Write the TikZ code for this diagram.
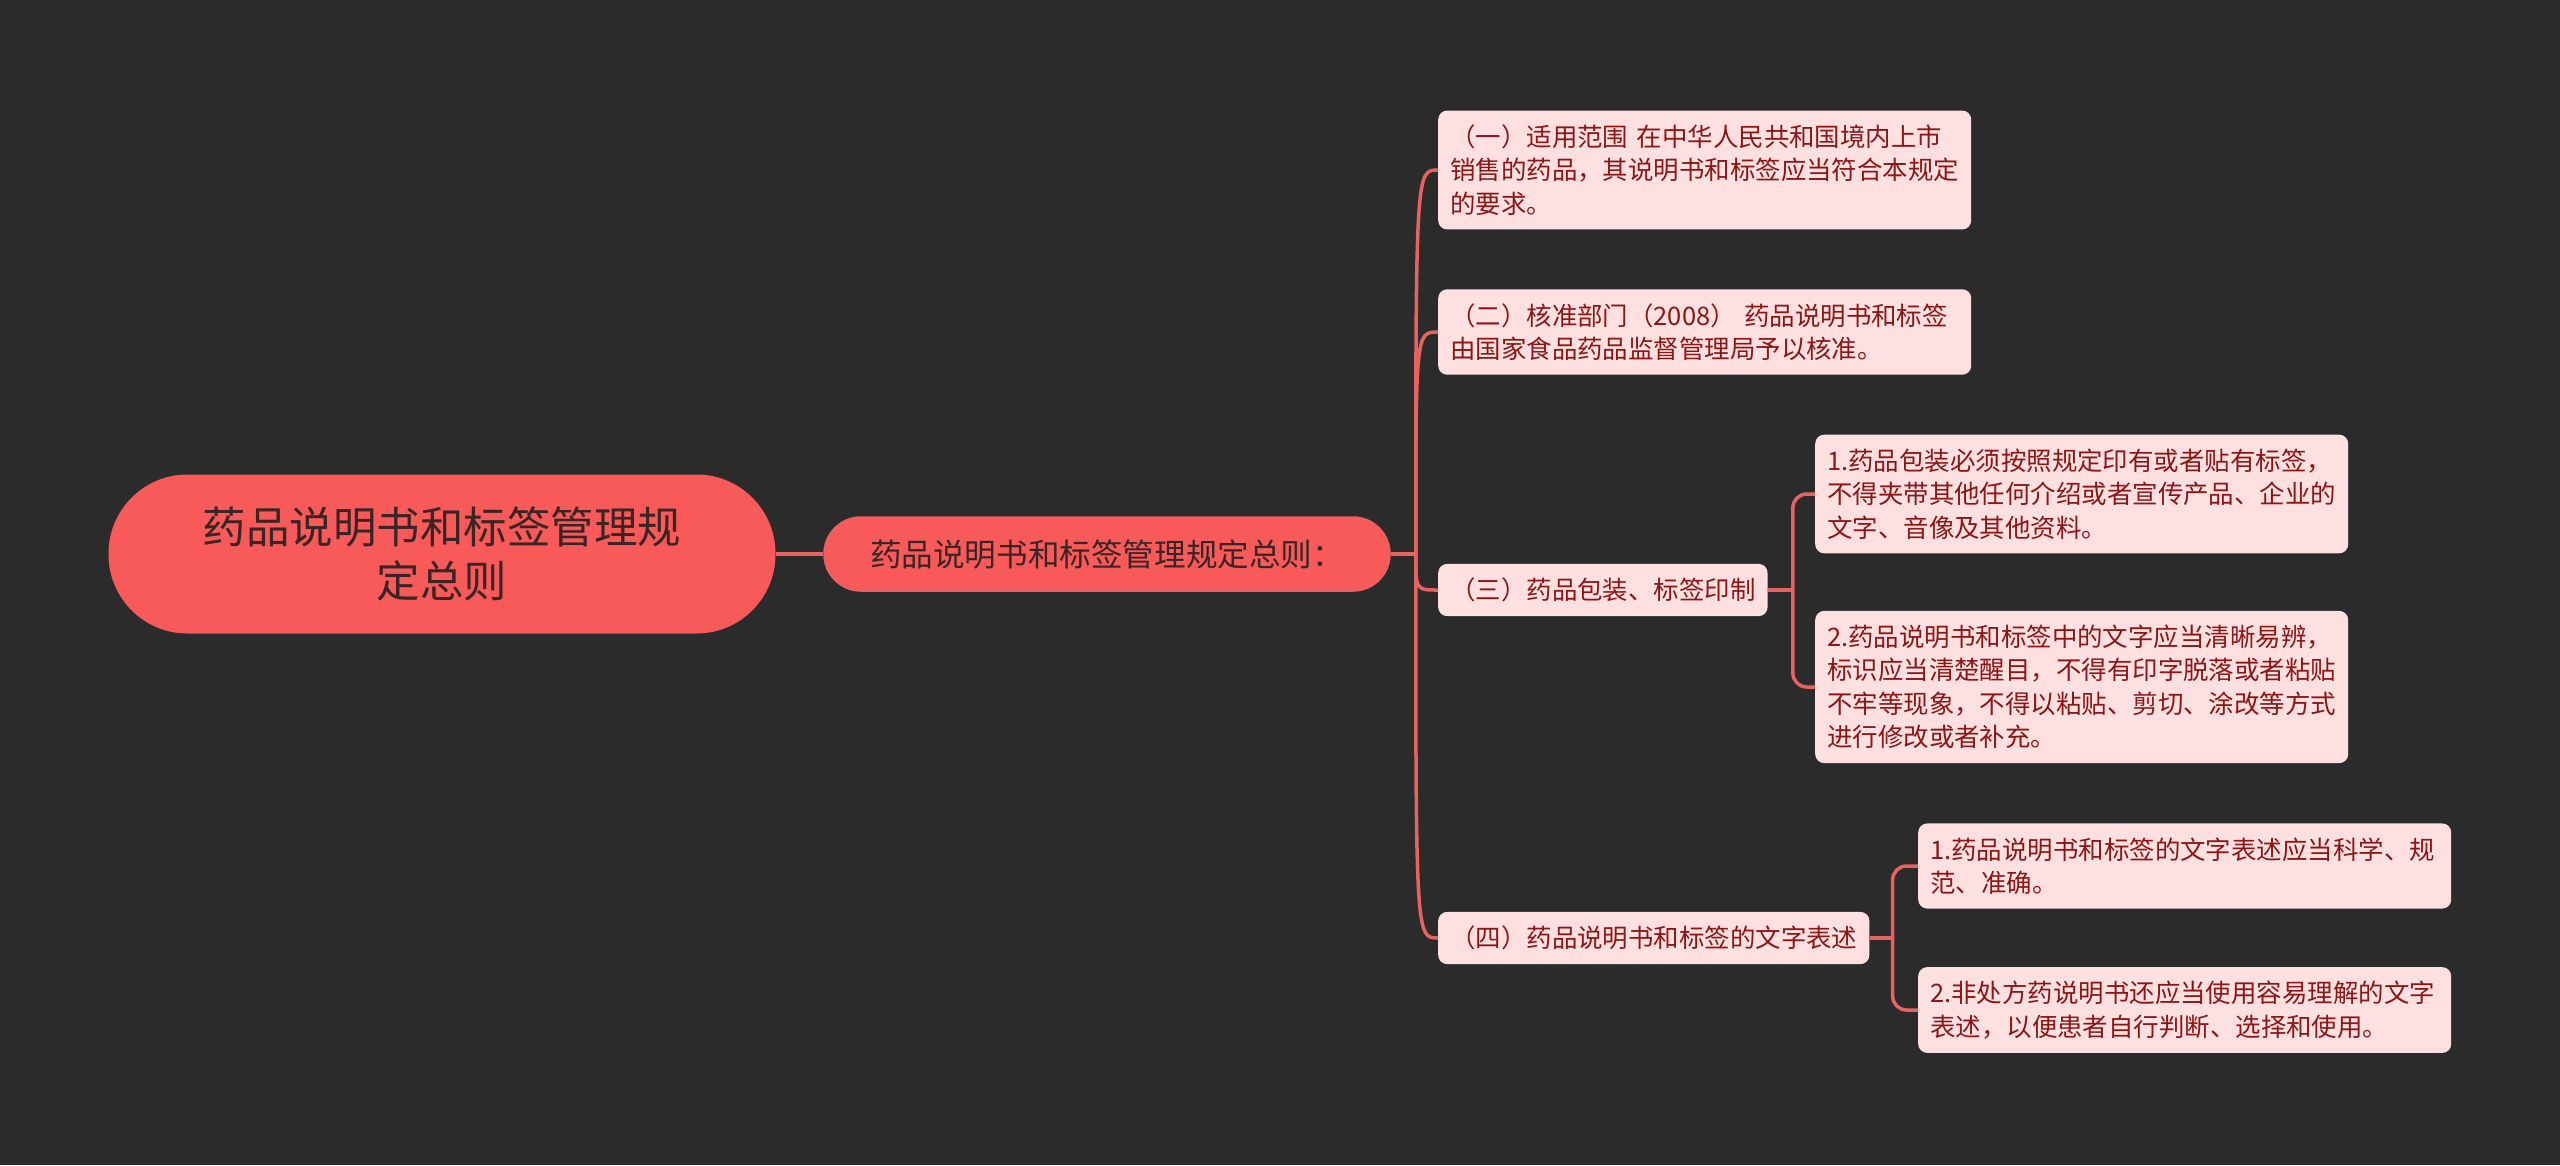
\documentclass[tikz,border=0pt]{standalone}
\usepackage{fontspec}
\setmainfont{Noto Sans CJK SC}
\definecolor{bgdark}{HTML}{2B2B2B}
\definecolor{coral}{HTML}{F85A5A}
\definecolor{rootink}{HTML}{3A2424}
\definecolor{leaf}{HTML}{FFE0E0}
\definecolor{leafink}{HTML}{8A1616}
\definecolor{branch}{HTML}{E86262}

\begin{document}
\begin{tikzpicture}[x=1pt,y=-1pt,
  topic/.style={fill=coral,text=rootink,align=center,inner sep=0pt},
  leafbox/.style={fill=leaf,text=leafink,rounded corners=9pt,align=left,inner xsep=12pt,inner ysep=14pt,anchor=west,font=\fontsize{25.45}{33.5}\selectfont},
  wide/.style={text width=509pt},
  link/.style={draw=branch,line width=3.5pt}]
  \fill[bgdark] (0,0) rectangle (2560,1165);
  \useasboundingbox (0,0) rectangle (2560,1165);

  \node[topic,minimum width=667pt,minimum height=159pt,rounded corners=79pt,font=\fontsize{43.5}{54}\selectfont] (root) at (442,554) {药品说明书和标签管理规\\定总则};
  \node[topic,draw=branch,line width=1.5pt,minimum width=566pt,minimum height=74pt,rounded corners=37pt,font=\fontsize{31.6}{38}\selectfont] (main) at (1107,554) {药品说明书和标签管理规定总则：};

  \node[leafbox,wide] (scope) at (1438,170) {（一）适用范围 在中华人民共和国境内上市\\销售的药品，其说明书和标签应当符合本规定\\的要求。};
  \node[leafbox,wide] (approve) at (1438,332) {（二）核准部门（2008） 药品说明书和标签\\由国家食品药品监督管理局予以核准。};
  \node[leafbox] (print) at (1438,590) {（三）药品包装、标签印制};
  \node[leafbox] (wording) at (1438,938) {（四）药品说明书和标签的文字表述};

  \node[leafbox,wide] (printa) at (1815,494) {1.药品包装必须按照规定印有或者贴有标签，\\不得夹带其他任何介绍或者宣传产品、企业的\\文字、音像及其他资料。};
  \node[leafbox,wide] (printb) at (1815,687) {2.药品说明书和标签中的文字应当清晰易辨，\\标识应当清楚醒目，不得有印字脱落或者粘贴\\不牢等现象，不得以粘贴、剪切、涂改等方式\\进行修改或者补充。};
  \node[leafbox,wide] (wordinga) at (1918,866) {1.药品说明书和标签的文字表述应当科学、规\\范、准确。};
  \node[leafbox,wide] (wordingb) at (1918,1010) {2.非处方药说明书还应当使用容易理解的文字\\表述，以便患者自行判断、选择和使用。};

  \draw[link] (root.east) -- (main.west);
  \draw[link] (main.east) -- ++(25,0) coordinate (hub);
  \foreach \c in {scope,approve,print,wording}
    \draw[link] (hub) .. controls (hub |- \c.west) .. (\c.west);

  \draw[link] (print.east) -- ++(25,0) coordinate (hubprint);
  \draw[link,rounded corners=14pt] (hubprint) |- (printa.west);
  \draw[link,rounded corners=14pt] (hubprint) |- (printb.west);

  \draw[link] (wording.east) -- ++(23,0) coordinate (hubword);
  \draw[link,rounded corners=14pt] (hubword) |- (wordinga.west);
  \draw[link,rounded corners=14pt] (hubword) |- (wordingb.west);
\end{tikzpicture}
\end{document}
